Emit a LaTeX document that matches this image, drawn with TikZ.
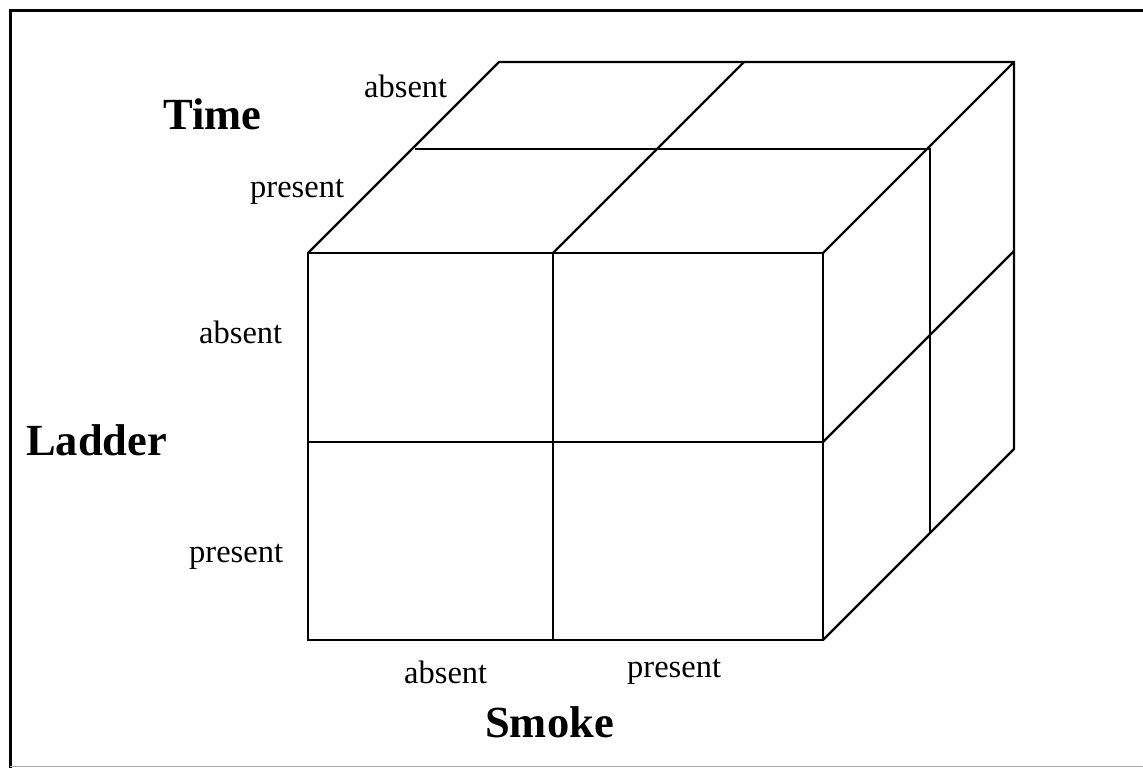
\documentclass[tikz,border=0pt]{standalone}
\usepackage{fontspec}
\setmainfont{Liberation Serif}
\begin{document}
\begin{tikzpicture}[x=1pt,y=-1pt,
  edge/.style={line width=2.4pt,line join=miter,line cap=butt},
  frameline/.style={line width=3pt},
  lbl/.style={inner sep=0pt,anchor=base west,font=\fontsize{32.5}{36}\selectfont},
  axis/.style={inner sep=0pt,anchor=base west,font=\fontsize{44.5}{48}\selectfont\bfseries}]
\useasboundingbox (0,0) rectangle (1143,768);
\fill[white] (0,0) rectangle (1143,768);
% frame
\draw[frameline] (10,768) -- (10,11) -- (1143,11);
\draw[line width=1pt,black!35] (10,766) -- (1143,766);
% front face
\coordinate (f00) at (308,253); \coordinate (f10) at (553,253); \coordinate (f20) at (823,253);
\coordinate (f01) at (308,442); \coordinate (f11) at (553,442); \coordinate (f21) at (823,442);
\coordinate (f02) at (308,640); \coordinate (f12) at (553,640); \coordinate (f22) at (823,640);
% middle depth
\coordinate (m00) at (415,149); \coordinate (m20) at (930,149);
\coordinate (m22) at (930,533);
% back
\coordinate (b00) at (499,62); \coordinate (b10) at (744,62); \coordinate (b20) at (1014,62);
\coordinate (b21) at (1014,251); \coordinate (b22) at (1014,449);
\draw[edge] (f00) rectangle (f22);
\draw[edge] (f10) -- (f12);
\draw[edge] (f01) -- (f21);
\draw[edge] (f00) -- (b00) -- (b20) -- (b22) -- (f22);
\draw[edge] (f20) -- (b20);
\draw[edge] (f10) -- (b10);
\draw[edge] (m00) -- (m20) -- (m22);
\draw[edge] (f21) -- (b21);
% labels
\node[axis] (time) at (163,129) {Time};
\node[lbl] (tabs) at (364,97) {absent};
\node[lbl] (tpre) at (250,197) {present};
\node[lbl] (labs) at (199,343) {absent};
\node[axis] (ladder) at (26,455) {Ladder};
\node[lbl] (lpre) at (189,562) {present};
\node[lbl] (sabs) at (404,683) {absent};
\node[lbl] (spre) at (627,677) {present};
\node[axis] (smoke) at (485,737) {Smoke};
\end{tikzpicture}
\end{document}
